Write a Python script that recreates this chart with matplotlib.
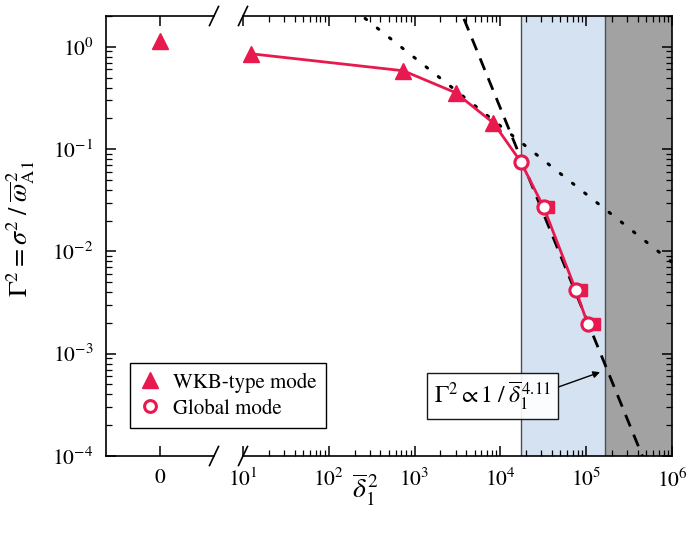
"""
Growth rate of WKB-type and global modes against the normalised shear.
"""

import matplotlib

matplotlib.use("Agg")
import matplotlib.pyplot as plt
import numpy as np
from matplotlib.lines import Line2D
from matplotlib.ticker import FixedLocator, LogLocator, NullFormatter, NullLocator

plt.rcParams["font.family"] = ["STIXGeneral", "DejaVu Serif"]
plt.rcParams["mathtext.fontset"] = "stix"

# WKB-type modes: first point is delta=0 (shown on the broken left panel)
wkb_zero_gamma2 = 1.15
wkb_delta2 = [12.4, 740, 3000, 8300]
wkb_gamma2 = [0.855, 0.583, 0.356, 0.18]

# global modes
glob_delta2 = [1.72e4, 3.2e4, 7.57e4, 1.045e5]
glob_gamma2 = [0.0755, 0.0269, 0.00417, 0.00194]

# companion runs drawn as squares behind the circles
sq_delta2 = [3.55e4, 8.65e4, 1.23e5]
sq_gamma2 = [0.0269, 0.00417, 0.00194]

# power-law guides: gamma2 = 10**logc * delta2**slope
steep_slope, steep_logc = -4.11 / 2, 7.62
shallow_slope, shallow_logc = -2.0 / 3, 1.893

# shaded delta2 ranges
blue_band = (1.72e4, 1.65e5)
grey_band = (1.65e5, 1e6)

RED = "#e8194e"
W, H = 687, 533


def fx(px):
    return px / W


def fy(py):
    return 1 - py / H


def style_axis(ax):
    for sp in ax.spines.values():
        sp.set_linewidth(1.2)
    ax.tick_params(which="major", direction="in", length=7, width=1.1, labelsize=15.5, pad=9)
    ax.tick_params(which="minor", direction="in", length=4, width=0.9)


def draw_break(fig, x_px):
    for y_px in (456, 16):
        fig.add_artist(Line2D([fx(x_px - 4.5), fx(x_px + 4.5)], [fy(y_px + 9.5), fy(y_px - 9.5)],
                              color="black", lw=1.2, transform=fig.transFigure))


def main():
    fig = plt.figure(figsize=(W / 100, H / 100), dpi=100)
    ax0 = fig.add_axes([fx(106), fy(456), fx(214) - fx(106), fy(16) - fy(456)])
    ax1 = fig.add_axes([fx(243), fy(456), fx(672) - fx(243), fy(16) - fy(456)])

    ylim = (1e-4, 2.0)

    # left panel: delta = 0
    ax0.set_yscale("log")
    ax0.set_xlim(-1, 1)
    ax0.set_ylim(*ylim)
    ax0.plot([0], [wkb_zero_gamma2], marker="^", ms=11, color=RED, ls="none", zorder=5)
    ax0.spines["right"].set_visible(False)
    ax0.xaxis.set_major_locator(FixedLocator([0]))
    ax0.set_xticklabels(["0"])
    ax0.xaxis.set_minor_locator(NullLocator())
    ax0.yaxis.set_major_locator(LogLocator(base=10, numticks=10))
    ax0.yaxis.set_minor_locator(LogLocator(base=10, subs=np.arange(2, 10), numticks=20))
    ax0.yaxis.set_minor_formatter(NullFormatter())
    style_axis(ax0)
    ax0.tick_params(which="both", top=True, right=False)

    # right panel: log delta
    ax1.set_xscale("log")
    ax1.set_yscale("log")
    ax1.set_xlim(10, 1e6)
    ax1.set_ylim(*ylim)
    ax1.spines["left"].set_visible(False)

    ax1.axvspan(*blue_band, color="#d5e2f1", zorder=0, lw=0)
    ax1.axvspan(*grey_band, color="#a2a2a2", zorder=0, lw=0)
    for xb in (blue_band[0], grey_band[0]):
        ax1.axvline(xb, color="#4a4f55", lw=1.0, zorder=0.5)

    xs = np.logspace(1, 6, 400)
    ax1.plot(xs, 10 ** steep_logc * xs ** steep_slope, color="black", lw=2.0,
             ls=(0, (4.5, 3.2)), zorder=2)
    ax1.plot(xs, 10 ** shallow_logc * xs ** shallow_slope, color="black", lw=2.2,
             ls=(0, (0.6, 4.5)), dash_capstyle="round", zorder=2)

    ax1.plot(wkb_delta2 + glob_delta2, wkb_gamma2 + glob_gamma2, color=RED, lw=2.0, zorder=3)
    ax1.plot(sq_delta2, sq_gamma2, marker="s", ms=8, color=RED, ls="none", zorder=3.5)
    ax1.plot(wkb_delta2, wkb_gamma2, marker="^", ms=11, color=RED, ls="none", zorder=4)
    ax1.plot(glob_delta2, glob_gamma2, marker="o", ms=9.5, mfc="white", mec=RED, mew=2.2,
             ls="none", zorder=4)

    ax1.xaxis.set_major_locator(LogLocator(base=10, numticks=10))
    ax1.xaxis.set_minor_locator(LogLocator(base=10, subs=np.arange(2, 10), numticks=20))
    ax1.xaxis.set_minor_formatter(NullFormatter())
    ax1.yaxis.set_major_locator(LogLocator(base=10, numticks=10))
    ax1.yaxis.set_minor_locator(LogLocator(base=10, subs=np.arange(2, 10), numticks=20))
    style_axis(ax1)
    ax1.tick_params(which="both", top=True, right=True, left=False, labelleft=False)

    ax1.annotate(r"$\Gamma^2 \propto 1\;/\;\overline{\delta}_1^{\,4.11}$",
                 xy=(1.45e5, 6.6e-4), xytext=(8.1e3, 3.85e-4),
                 ha="center", va="center", fontsize=17, zorder=6,
                 bbox=dict(boxstyle="square,pad=0.3", fc="white", ec="black", lw=1.0, alpha=0.9),
                 arrowprops=dict(arrowstyle="-|>", color="black", lw=1.0, mutation_scale=10,
                                 relpos=(1.0, 0.7), shrinkA=0, shrinkB=0))

    draw_break(fig, 214)
    draw_break(fig, 243)

    handles = [
        Line2D([], [], marker="^", ms=11, color=RED, ls="none"),
        Line2D([], [], marker="o", ms=8.5, mfc="white", mec=RED, mew=2.2, ls="none"),
    ]
    leg = fig.legend(handles, ["WKB-type mode", "Global mode"], loc="upper left",
                     bbox_to_anchor=(fx(130), fy(363)), borderaxespad=0, fontsize=15,
                     fancybox=False, framealpha=1, edgecolor="black", handlelength=1.0,
                     handletextpad=0.6, borderpad=0.45, labelspacing=0.3)
    leg.get_frame().set_linewidth(1.0)

    fig.text(fx(21), fy(229), r"$\Gamma^2 = \sigma^2\;/\;\overline{\omega}^{\,2}_{\rm A1}$",
             rotation=90, ha="center", va="center", fontsize=19)
    fig.text(fx(365), fy(490), r"$\overline{\delta}_1^{\,2}$", ha="center", va="center", fontsize=20)

    fig.savefig("out.png", dpi=100)
    plt.close(fig)


if __name__ == "__main__":
    main()
